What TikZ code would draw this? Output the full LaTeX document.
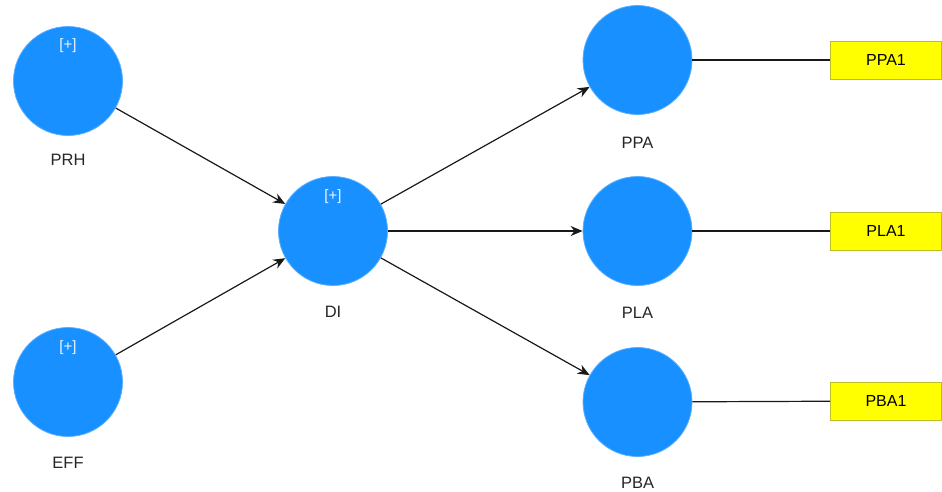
\documentclass[tikz,border=0pt]{standalone}
\usepackage{fontspec}
\setmainfont{Liberation Sans}
\usetikzlibrary{arrows.meta}
\definecolor{lvblue}{RGB}{24,144,255}
\definecolor{lvedge}{RGB}{90,175,255}
\definecolor{mvyellow}{RGB}{255,255,0}
\definecolor{mvedge}{RGB}{190,190,40}
\begin{document}
\begin{tikzpicture}[x=1pt,y=-1pt,
  latent/.style={circle,fill=lvblue,draw=lvedge,line width=0.8pt,minimum size=109pt,inner sep=0pt},
  indicator/.style={rectangle,fill=mvyellow,draw=mvedge,line width=0.8pt,minimum width=111pt,minimum height=38pt,inner sep=0pt,font=\fontsize{16}{19}\selectfont},
  caption/.style={font=\fontsize{16.5}{19}\selectfont,text=black!85},
  plus/.style={font=\fontsize{15}{18}\selectfont,text=white!92!lvblue},
  path/.style={draw=black!90,line width=1.2pt,-{Stealth[length=12pt,width=10pt]}},
  load/.style={draw=black!90,line width=1.2pt}]
\useasboundingbox (0,0) rectangle (942,491);
% latent variables
\node[latent] (PRH) at (68,81) {};
\node[latent] (EFF) at (68,382) {};
\node[latent] (DI) at (333,231) {};
\node[latent] (PPA) at (637.5,60) {};
\node[latent] (PLA) at (637.5,231) {};
\node[latent] (PBA) at (637.5,402) {};
% collapsed-construct markers
\node[plus] (pPRH) at (68,46) {[+]};
\node[plus] (pEFF) at (68,348) {[+]};
\node[plus] (pDI) at (333,197) {[+]};
% names below the constructs
\node[caption] (lPRH) at (68,160) {PRH};
\node[caption] (lEFF) at (68,463) {EFF};
\node[caption] (lDI) at (333,312) {DI};
\node[caption] (lPPA) at (637.5,143) {PPA};
\node[caption] (lPLA) at (637.5,313) {PLA};
\node[caption] (lPBA) at (637.5,483) {PBA};
% indicators
\node[indicator] (PPA1) at (886,60) {PPA1};
\node[indicator] (PLA1) at (886,231) {PLA1};
\node[indicator] (PBA1) at (886,401) {PBA1};
% structural paths
\draw[path] (PRH) -- (DI);
\draw[path] (EFF) -- (DI);
\draw[path] (DI) -- (PPA);
\draw[path] (DI) -- (PLA);
\draw[path] (DI) -- (PBA);
% measurement links
\draw[load] (PPA) -- (PPA1);
\draw[load] (PLA) -- (PLA1);
\draw[load] (PBA) -- (PBA1);
\end{tikzpicture}
\end{document}
